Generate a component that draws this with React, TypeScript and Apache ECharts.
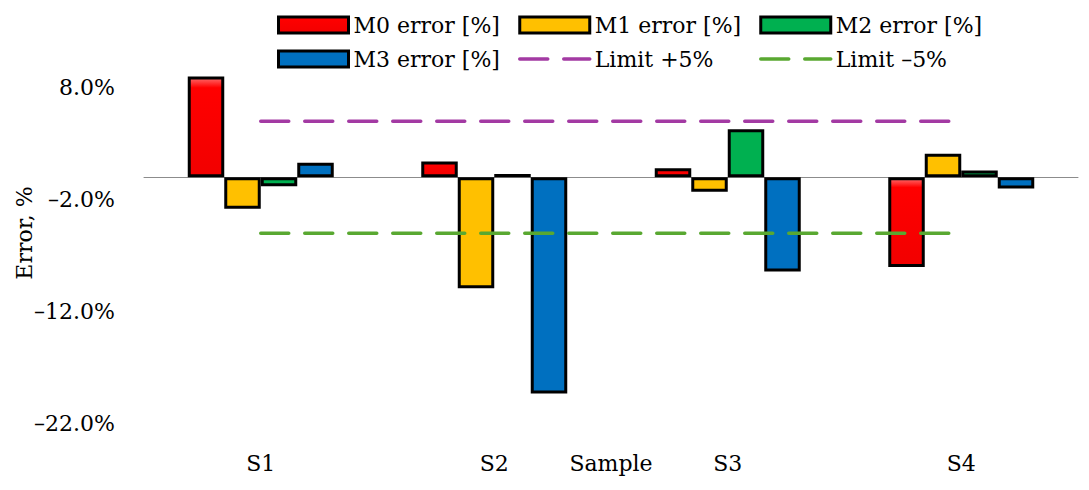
import React, { useEffect, useRef } from "react";
import * as echarts from "echarts";

const categories = ["S1", "S2", "S3", "S4"];
const m0Values = [9.0, 1.4, 0.8, -8.0];
const m1Values = [-2.8, -9.9, -1.3, 2.1];
const m2Values = [-0.8, 0.3, 4.3, 0.6];
const m3Values = [1.3, -19.3, -8.4, -1.0];
const limitPlus = [5, 5, 5, 5];
const limitMinus = [-5, -5, -5, -5];
const yTickValues = [-22, -12, -2, 8];

const FONT = "DejaVu Serif";
const DASH = [28, 16];

export default function App() {
  const ref = useRef<HTMLDivElement>(null);

  useEffect(() => {
    if (!ref.current) return;
    const chart = echarts.init(ref.current, null, { renderer: "svg" });

    const border = { borderColor: "#000", borderWidth: 3 };
    const barCommon = {
      type: "bar",
      barWidth: 36.5,
      barGap: "0%",
      xAxisIndex: 0,
      yAxisIndex: 0,
    };
    const legendCommon = {
      orient: "vertical",
      top: 9,
      itemWidth: 70,
      itemHeight: 16,
      itemGap: 12,
      textStyle: { fontFamily: FONT, fontSize: 22, color: "#000" },
    };
    const barLegend = (name: string) => ({
      name,
      icon: "rect",
      itemStyle: { borderColor: "#000", borderWidth: 3 },
    });
    const lineLegend = (name: string, color: string) => ({
      name,
      itemStyle: { opacity: 0 },
      lineStyle: { color, width: 3.5, type: DASH, cap: "round" },
    });

    chart.setOption({
      animation: false,
      textStyle: { fontFamily: FONT },
      grid: { left: 144, right: 11, top: 42.9, bottom: 43.9, outerBoundsMode: "none", containLabel: false },
      legend: [
        { ...legendCommon, left: 272, data: [barLegend("M0 error [%]"), barLegend("M3 error [%]")] },
        { ...legendCommon, left: 513, data: [barLegend("M1 error [%]"), lineLegend("Limit +5%", "#A33AA3")] },
        { ...legendCommon, left: 754, data: [barLegend("M2 error [%]"), lineLegend("Limit –5%", "#59A831")] },
      ],
      xAxis: [
        {
          type: "category",
          data: categories,
          axisLine: { show: true, onZero: true, lineStyle: { color: "#8c8c8c", width: 1 } },
          axisTick: { show: false },
          axisLabel: { show: false },
          splitLine: { show: false },
        },
        {
          type: "category",
          data: categories,
          position: "bottom",
          axisLine: { show: false, onZero: false },
          axisTick: { show: false },
          axisLabel: { fontFamily: FONT, fontSize: 22, color: "#000", margin: 6 },
          name: "Sample",
          nameLocation: "middle",
          nameGap: 6,
          nameMoveOverlap: false,
          nameTextStyle: { fontFamily: FONT, fontSize: 22, color: "#000", verticalAlign: "top" },
        },
      ],
      yAxis: {
        type: "value",
        min: -24,
        max: 12,
        axisLine: { show: false },
        axisTick: { show: false },
        splitLine: { show: false },
        axisLabel: {
          customValues: yTickValues,
          margin: 29,
          fontFamily: FONT,
          fontSize: 22,
          color: "#000",
          formatter: (v: number) => v.toFixed(1).replace("-", "–") + "%",
        },
      },
      graphic: [
        {
          type: "text",
          x: 24,
          y: 233,
          rotation: Math.PI / 2,
          style: {
            text: "Error, %",
            fontFamily: FONT,
            fontSize: 22,
            fill: "#000",
            align: "center",
            verticalAlign: "middle",
          },
        },
      ],
      series: [
        {
          ...barCommon,
          name: "M0 error [%]",
          data: m0Values,
          itemStyle: {
            ...border,
            color: new echarts.graphic.LinearGradient(0, 0, 0, 1, [
              { offset: 0, color: "#ff6a6a" },
              { offset: 0.1, color: "#ff0000" },
              { offset: 1, color: "#f20000" },
            ]),
          },
        },
        { ...barCommon, name: "M1 error [%]", data: m1Values, itemStyle: { ...border, color: "#FFC000" } },
        { ...barCommon, name: "M2 error [%]", data: m2Values, itemStyle: { ...border, color: "#00B050" } },
        { ...barCommon, name: "M3 error [%]", data: m3Values, itemStyle: { ...border, color: "#0070C0" } },
        {
          type: "line",
          name: "Limit +5%",
          data: limitPlus,
          symbol: "none",
          color: "#A33AA3",
          lineStyle: { color: "#A33AA3", width: 3.5, type: DASH, cap: "round" },
          z: 5,
        },
        {
          type: "line",
          name: "Limit –5%",
          data: limitMinus,
          symbol: "none",
          color: "#59A831",
          lineStyle: { color: "#59A831", width: 3.5, type: DASH, cap: "round" },
          z: 5,
        },
      ],
    });

    return () => chart.dispose();
  }, []);

  return (
    <div
      ref={ref}
      style={{ position: "fixed", left: 0, top: 0, width: 1089, height: 490, background: "#fff" }}
    />
  );
}
